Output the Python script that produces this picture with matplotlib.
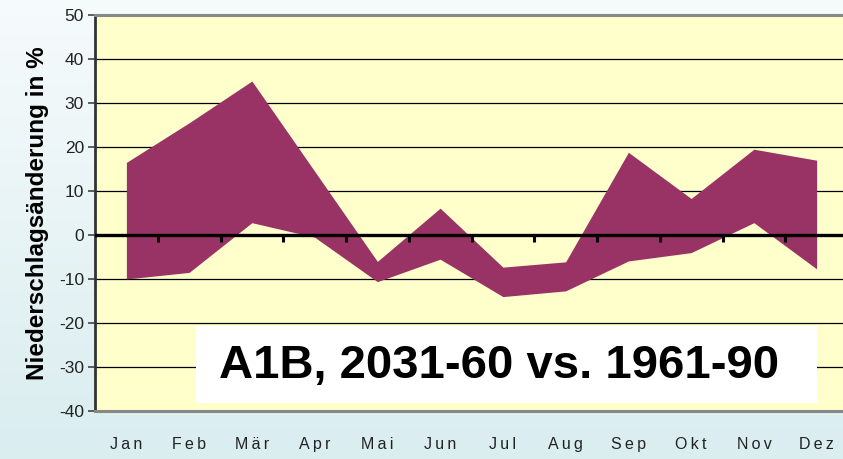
import matplotlib.pyplot as plt
from matplotlib.patches import Rectangle
import numpy as np

# Monatliche Niederschlagsänderung (%), Band zwischen Minimum und Maximum
monate = ['Jan', 'Feb', 'Mär', 'Apr', 'Mai', 'Jun', 'Jul', 'Aug', 'Sep', 'Okt', 'Nov', 'Dez']
oben = [16.5, 25.5, 35.0, 14.5, -6.0, 6.1, -7.3, -6.1, 18.8, 8.3, 19.5, 17.0]
unten = [-10.0, -8.5, 2.8, -0.5, -10.6, -5.5, -14.0, -12.7, -5.9, -4.0, 2.8, -7.7]
yticks = np.arange(-40, 51, 10)

plt.rcParams['font.family'] = ['Liberation Sans', 'DejaVu Sans']

fig = plt.figure(figsize=(8.43, 4.59), dpi=100)

# Hintergrund mit leichtem Verlauf
bg = fig.add_axes([0, 0, 1, 1], zorder=-10)
grad = np.linspace(0, 1, 256).reshape(-1, 1)
top_c = np.array([0.965, 0.982, 0.988])
bot_c = np.array([0.855, 0.930, 0.940])
img = top_c + (bot_c - top_c) * grad[:, :, None]
bg.imshow(img, aspect='auto', extent=[0, 1, 0, 1])
bg.axis('off')

W, H = 843, 459
ax = fig.add_axes([95 / W, (H - 411) / H, 753 / W, 396 / H])
ax.set_facecolor('#ffffcc')

x = np.arange(len(monate))
ax.fill_between(x, unten, oben, color='#993366', linewidth=0, zorder=2)

ax.set_xlim(-0.5, len(monate) - 0.5)
ax.set_ylim(-40, 50)

for y in yticks[1:-1]:
    if y != 0:
        ax.axhline(y, color='black', linewidth=0.9, zorder=1)
ax.axhline(0, color='black', linewidth=2.4, zorder=3)
for b in np.arange(0.5, len(monate) - 0.5, 1):
    ax.plot([b, b], [0, -1.6], color='black', linewidth=2.2, zorder=3,
            solid_capstyle='butt')

ax.set_yticks(yticks)
ax.set_yticklabels([str(v) for v in yticks], fontsize=12.5, color='#222222')
ax.tick_params(axis='y', length=5, width=1.2, color='#444444', pad=3)
ax.set_xticks(x)
# etwas gesperrte Monatsnamen
ax.set_xticklabels(['\u2009'.join(m) for m in monate], fontsize=11.5, color='#222222')
ax.tick_params(axis='x', length=0, pad=19)

for s in ['top', 'bottom']:
    ax.spines[s].set_color('#888888')
    ax.spines[s].set_linewidth(2.2)
ax.spines['left'].set_color('#333333')
ax.spines['left'].set_linewidth(2)
ax.spines['right'].set_visible(False)

ax.set_ylabel('Niederschlagsänderung in %', fontsize=17.5, fontweight='bold',
              labelpad=7)

# Beschriftungskasten
fig.add_artist(Rectangle((196 / W, (H - 403) / H), 621 / W, 77 / H,
                         transform=fig.transFigure, facecolor='white',
                         edgecolor='none', zorder=4))
fig.text(499 / W, (H - 366) / H, 'A1B, 2031-60 vs. 1961-90',
         fontsize=34, fontweight='bold', ha='center', va='center', zorder=5)

fig.savefig('out.png', dpi=100)
